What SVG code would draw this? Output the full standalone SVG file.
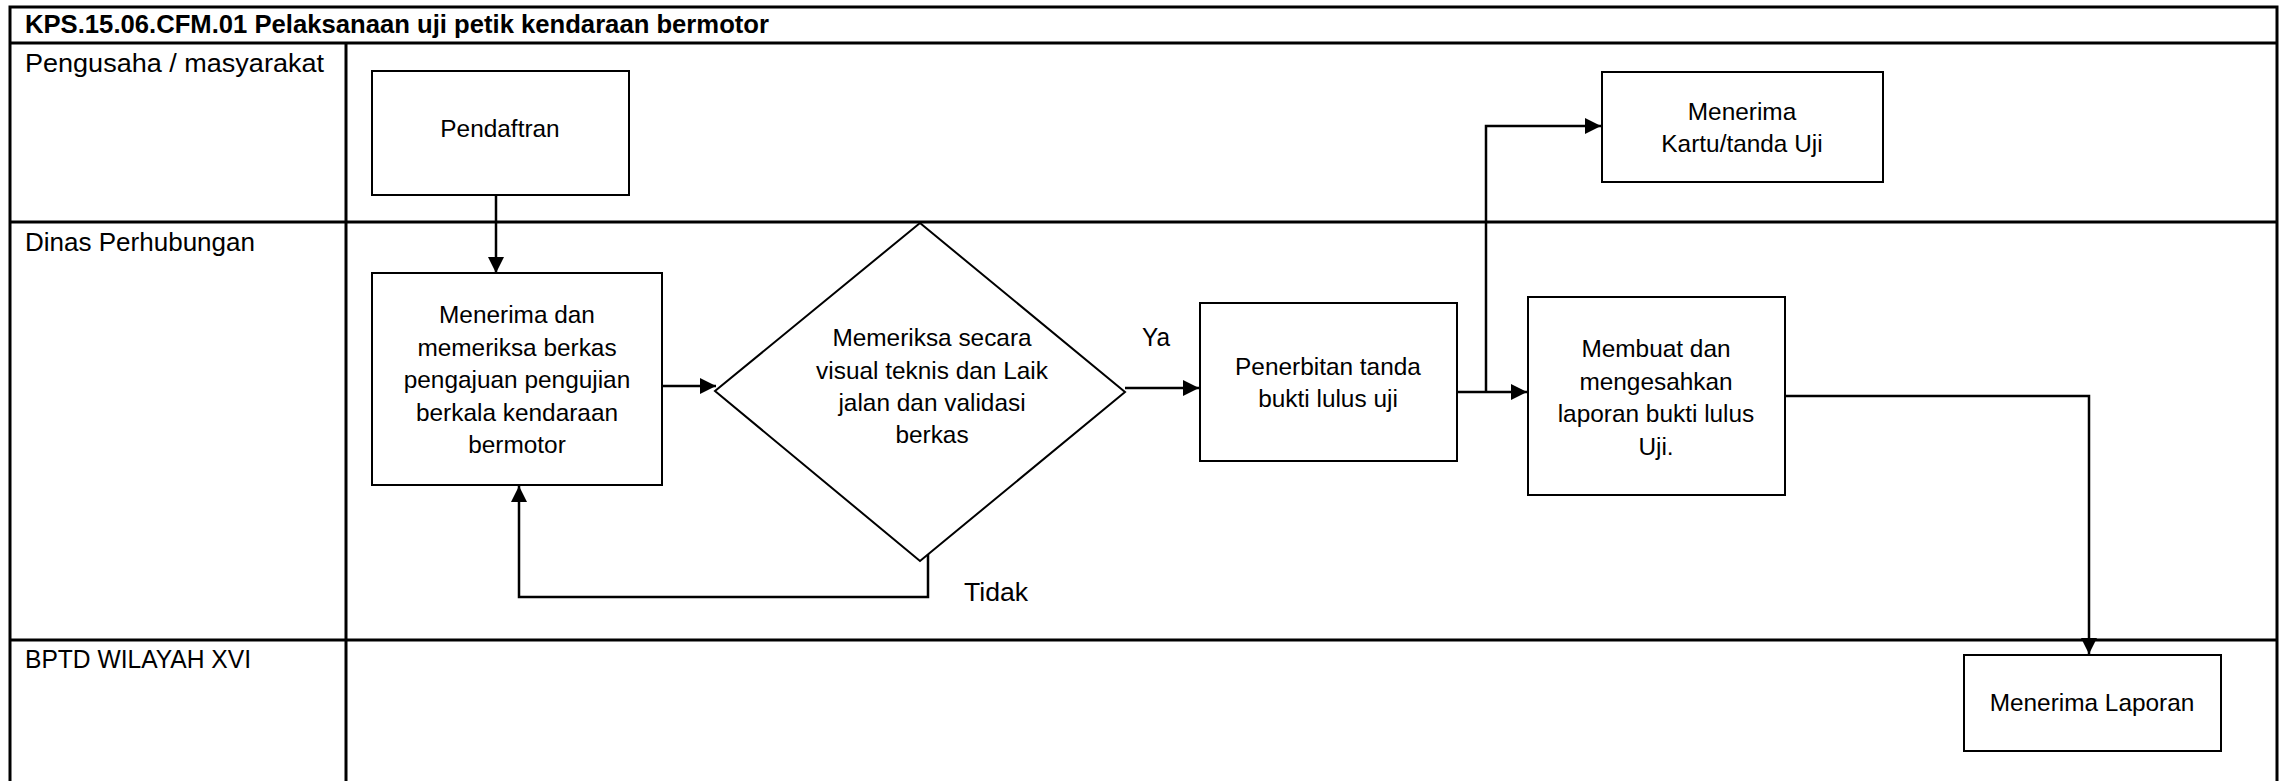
<svg xmlns="http://www.w3.org/2000/svg" width="2287" height="781" viewBox="0 0 2287 781">
<style>
.frame{stroke:#000;stroke-width:3;fill:none}
.box{fill:#fff;stroke:#000;stroke-width:2}
.conn{fill:none;stroke:#000;stroke-width:2.5}
.t{font-family:"Liberation Sans",Arial,sans-serif;font-size:24.4px;fill:#000;text-anchor:middle}
.lane{font-family:"Liberation Sans",Arial,sans-serif;font-size:26.5px;fill:#000}
.title{font-family:"Liberation Sans",Arial,sans-serif;font-size:25.6px;font-weight:bold;fill:#000}
</style>
<defs>
<marker id="arr" markerUnits="userSpaceOnUse" markerWidth="16" markerHeight="16" viewBox="0 0 16 16" refX="16" refY="8" orient="auto">
<path d="M0,0 L16,8 L0,16 Z" fill="#000"/>
</marker>
</defs>
<rect width="2287" height="781" fill="#fff"/>
<g id="frame">
<path class="frame" d="M10,781 V7 H2277 V781"/>
<line class="frame" x1="10" y1="43" x2="2277" y2="43"/>
<line class="frame" x1="10" y1="222" x2="2277" y2="222"/>
<line class="frame" x1="10" y1="640" x2="2277" y2="640"/>
<line class="frame" x1="346" y1="43" x2="346" y2="781"/>
<text class="title" x="25" y="33" textLength="744" lengthAdjust="spacingAndGlyphs">KPS.15.06.CFM.01 Pelaksanaan uji petik kendaraan bermotor</text>
<text class="lane" x="25" y="72" textLength="299" lengthAdjust="spacingAndGlyphs">Pengusaha / masyarakat</text>
<text class="lane" x="25" y="251" textLength="230" lengthAdjust="spacingAndGlyphs">Dinas Perhubungan</text>
<text class="lane" x="25" y="668" textLength="226" lengthAdjust="spacingAndGlyphs">BPTD WILAYAH XVI</text>
</g>
<g id="connectors">
<line class="conn" x1="496" y1="195" x2="496" y2="273" marker-end="url(#arr)"/>
<line class="conn" x1="662" y1="386" x2="716" y2="386" marker-end="url(#arr)"/>
<line class="conn" x1="1125" y1="388" x2="1199" y2="388" marker-end="url(#arr)"/>
<line class="conn" x1="1457" y1="392" x2="1527" y2="392" marker-end="url(#arr)"/>
<polyline class="conn" points="1486,392 1486,126 1601,126" marker-end="url(#arr)"/>
<polyline class="conn" points="1785,396 2089,396 2089,654" marker-end="url(#arr)"/>
<polyline class="conn" points="928,554 928,597 519,597 519,486" marker-end="url(#arr)"/>
<text class="t" x="1156" y="346" style="font-size:26px" textLength="28" lengthAdjust="spacingAndGlyphs">Ya</text>
<text class="t" x="996" y="601" style="font-size:26.6px">Tidak</text>
</g>
<g id="pendaftran">
<rect class="box" x="372" y="71" width="257" height="124"/>
<text class="t" x="500" y="137">Pendaftran</text>
</g>
<g id="menerima-berkas">
<rect class="box" x="372" y="273" width="290" height="212"/>
<text class="t" x="517"><tspan x="517" y="323">Menerima dan</tspan><tspan x="517" y="355.5">memeriksa berkas</tspan><tspan x="517" y="388">pengajuan pengujian</tspan><tspan x="517" y="420.5">berkala kendaraan</tspan><tspan x="517" y="453">bermotor</tspan></text>
</g>
<g id="memeriksa">
<polygon class="box" points="920,223 1125,392 920,561 715,391"/>
<text class="t"><tspan x="932" y="346">Memeriksa secara</tspan><tspan x="932" y="378.5">visual teknis dan Laik</tspan><tspan x="932" y="411">jalan dan validasi</tspan><tspan x="932" y="443">berkas</tspan></text>
</g>
<g id="penerbitan">
<rect class="box" x="1200" y="303" width="257" height="158"/>
<text class="t"><tspan x="1328" y="375">Penerbitan tanda</tspan><tspan x="1328" y="407">bukti lulus uji</tspan></text>
</g>
<g id="kartu">
<rect class="box" x="1602" y="72" width="281" height="110"/>
<text class="t"><tspan x="1742" y="119.5">Menerima</tspan><tspan x="1742" y="152">Kartu/tanda Uji</tspan></text>
</g>
<g id="membuat">
<rect class="box" x="1528" y="297" width="257" height="198"/>
<text class="t"><tspan x="1656" y="357">Membuat dan</tspan><tspan x="1656" y="389.5">mengesahkan</tspan><tspan x="1656" y="422">laporan bukti lulus</tspan><tspan x="1656" y="454.5">Uji.</tspan></text>
</g>
<g id="menerima-laporan">
<rect class="box" x="1964" y="655" width="257" height="96"/>
<text class="t" x="2092" y="711">Menerima Laporan</text>
</g>
</svg>
